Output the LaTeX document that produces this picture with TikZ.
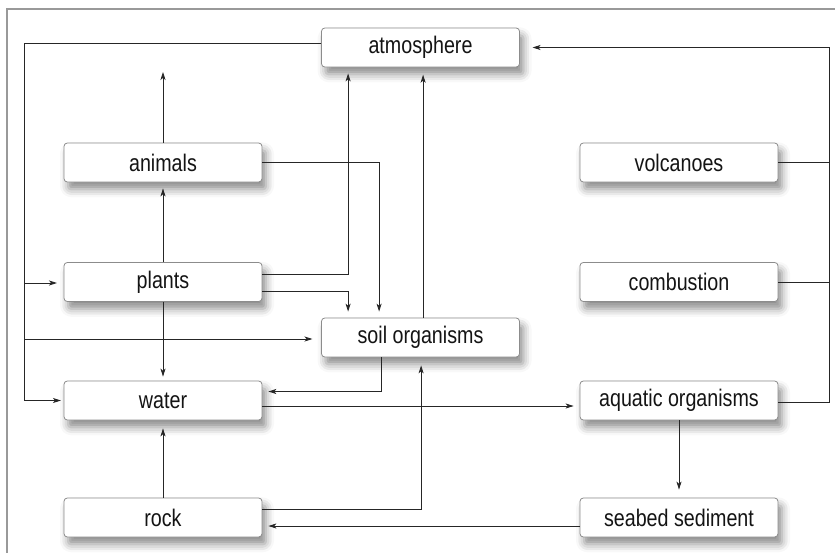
\documentclass[tikz,border=0pt]{standalone}
\usepackage{fontspec}
\setmainfont{Liberation Sans}[FakeStretch=0.82]
\usetikzlibrary{arrows.meta,calc,shadows.blur}
\begin{document}
\begin{tikzpicture}[x=0.75pt,y=-0.75pt,
  box/.style={draw=black!45, line width=0.6pt, fill=white, rounded corners=2.5pt,
    minimum width=148.5pt, minimum height=29.25pt, inner sep=0pt,
    font=\fontsize{18}{20}\selectfont, text=black!92,
    blur shadow={shadow xshift=3pt, shadow yshift=-5.5pt, shadow blur radius=6pt, shadow opacity=45}},
  conn/.style={draw=black!85, line width=0.65pt},
  arr/.style={conn, -{Stealth[length=6pt,width=3.8pt,inset=1.6pt]}, shorten >=4.5pt}
]
\useasboundingbox (0,0) rectangle (835,553);
\draw[black!40, line width=1.2pt] (7,553) -- (7,9) -- (835,9);

\node[box] (atmo) at (420.5,47.5) {atmosphere};
\node[box] (animals) at (163,162.5) {animals};
\node[box] (plants) at (163,282) {plants};
\node[box] (soil) at (420.5,337.5) {soil organisms};
\node[box] (water) at (163,400.5) {water};
\node[box] (rock) at (163,517.5) {rock};
\node[box] (volc) at (679,162.5) {volcanoes};
\node[box] (comb) at (679,282) {combustion};
\node[box] (aqua) at (679,400.5) {aquatic organisms};
\node[box] (seabed) at (679,517.5) {seabed sediment};

% left bus
\coordinate (busTop) at (24,43);
\coordinate (busP) at (24,283);
\coordinate (busS) at (24,339);
\coordinate (busBot) at (24,400.5);
\draw[conn] (atmo.west |- busTop) -- (busTop) -- (busBot);
\draw[arr, shorten >=2pt] (busBot) -- (water.west);
\draw[arr, shorten >=5pt] (busP) -- (plants.west |- busP);
\draw[arr, shorten >=6.5pt] (busS) -- (soil.west |- busS);

% animals up
\coordinate (animUp) at (163,72);
\draw[arr, shorten >=0pt] (animals.north) -- (animUp);
\draw[arr] (plants.north) -- (animals.south);
% plants to atmosphere
\draw[arr] ($(plants.east)+(0,-8)$) -| ($(atmo.south west)+(27,0)$);
% animals to soil
\draw[arr] (animals.east) -| ($(soil.north west)+(58,0)$);
% plants to soil
\draw[arr] ($(plants.east)+(0,9)$) -| ($(soil.north west)+(27,0)$);
% plants to water
\draw[arr, shorten >=3pt] (plants.south) -- (water.north);
% soil to water
\draw[arr] ($(soil.south west)+(60,0)$) |- ($(water.east)+(0,-9)$);
% water to aquatic
\draw[arr] ($(water.east)+(0,5.5)$) -- ($(aqua.west)+(0,5.5)$);
% rock to soil
\draw[arr, shorten >=6pt] ($(rock.east)+(0,-8.5)$) -| ($(soil.south west)+(100,0)$);
% soil to atmosphere
\draw[arr, shorten >=5.5pt] ($(soil.north west)+(102,0)$) -- ($(atmo.south west)+(102,0)$);
% seabed to rock
\draw[arr] ($(seabed.west)+(0,8.5)$) -- ($(rock.east)+(0,8.5)$);
% rock to water
\draw[arr, shorten >=6pt] (rock.north) -- (water.south);
% aquatic to seabed
\draw[arr, shorten >=6pt] (aqua.south) -- (seabed.north);
% right bus
\coordinate (busR) at (829,47.5);
\draw[arr, shorten >=9.5pt] ($(aqua.east)+(0,1.5)$) -| (busR) -- (atmo.east);
\draw[conn] (volc.east) -- (volc.east -| busR);
\draw[conn] (comb.east) -- (comb.east -| busR);
\end{tikzpicture}
\end{document}
